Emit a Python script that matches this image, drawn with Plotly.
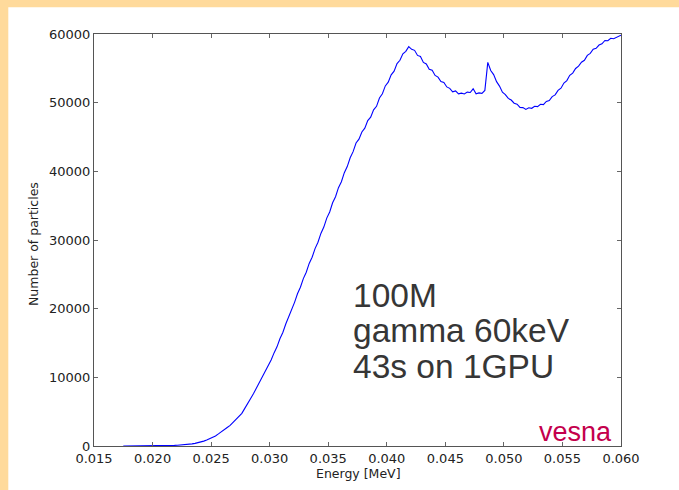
import numpy as np
import plotly.graph_objects as go

# ---- data ----
bin_start = 0.0175   # MeV, left edge of first histogram bin
bin_width = 0.00025  # MeV
counts = [
    0, 0, 0, 0, 5, 5, 10, 10, 15, 20,
    20, 30, 35, 45, 55, 65, 80, 95, 115, 135,
    160, 200, 250, 310, 380, 470, 580, 710, 860, 1050,
    1240, 1470, 1760, 2040, 2360, 2700, 3010, 3430, 3790, 4290,
    4760, 5480, 6120, 6930, 7650, 8460, 9180, 10050, 10760, 11690,
    12520, 13560, 14440, 15620, 16540, 17760, 18730, 19970, 20920, 22180,
    23120, 24380, 25310, 26590, 27480, 28750, 29680, 30960, 31880, 33190,
    34080, 35420, 36300, 37620, 38480, 39810, 40690, 41980, 42870, 44120,
    44690, 45730, 46280, 47390, 47880, 48960, 49470, 50680, 51290, 52440,
    52980, 54060, 54580, 55690, 56170, 57120, 57480, 58150, 57760, 57620,
    56880, 56720, 55860, 55640, 54870, 54710, 53960, 53720, 53080, 52930,
    52290, 52080, 51590, 51720, 51280, 51390, 51260, 51540, 51480, 52020,
    51280, 51420, 51360, 51790, 55870, 54680, 54090, 53060, 52410, 51520,
    51180, 50620, 50380, 49920, 49780, 49310, 49280, 49020, 49260, 49180,
    49480, 49420, 49760, 49720, 50180, 50310, 50890, 51130, 51790, 52110,
    52860, 53220, 53980, 54310, 54980, 55320, 55890, 56170, 56890, 57180,
    57780, 57920, 58390, 58580, 59060, 59020, 59380, 59310, 59540, 59820,
]
x_ticks = [0.015, 0.020, 0.025, 0.030, 0.035, 0.040, 0.045, 0.050, 0.055, 0.060]
x_tick_labels = ["0.015", "0.020", "0.025", "0.030", "0.035", "0.040",
                 "0.045", "0.050", "0.055", "0.060"]
y_ticks = [0, 10000, 20000, 30000, 40000, 50000, 60000]
y_tick_labels = ["0", "10000", "20000", "30000", "40000", "50000", "60000"]
info_lines = ["100M", "gamma 60keV", "43s on 1GPU"]
x_title = "Energy [MeV]"
y_title = "Number of particles"
brand = "vesna"

# ---- geometry ----
W, H = 679, 490
L, R, T, B = 94, 58, 34, 44
PW, PH = W - L - R, H - T - B


def px_x(p):
    return (p - L) / PW


def px_y(p):
    return (H - B - p) / PH


centers = bin_start + bin_width * (np.arange(len(counts)) + 0.5)
xs = np.concatenate([[bin_start], centers, [bin_start + bin_width * len(counts)]])
ys = [0] + list(counts) + [counts[-1]]

fig = go.Figure(go.Scatter(
    x=xs, y=ys, mode="lines",
    line=dict(color="#0000ff", width=1.1),
    hoverinfo="skip", showlegend=False,
))

axis_common = dict(
    ticks="inside", ticklen=4, tickcolor="#666", tickwidth=1,
    showline=True, linecolor="#555", linewidth=1.3, mirror="ticks",
    showgrid=False, zeroline=False,
    tickfont=dict(family="DejaVu Sans", size=13, color="#222"),
)

fig.update_layout(
    width=W, height=H, autosize=False,
    margin=dict(l=L, r=R, t=T, b=B, pad=0),
    paper_bgcolor="white", plot_bgcolor="white",
    xaxis=dict(range=[0.015, 0.060], tickvals=x_ticks, ticktext=x_tick_labels, **axis_common),
    yaxis=dict(range=[0, 60000], tickvals=y_ticks, ticktext=y_tick_labels, **axis_common),
    font=dict(family="DejaVu Sans"),
)

orange = "#ffda9b"
fig.add_shape(type="rect", xref="paper", yref="paper", layer="above",
              x0=px_x(0), x1=px_x(8.3), y0=px_y(H), y1=px_y(0),
              fillcolor=orange, line=dict(width=0))
fig.add_shape(type="rect", xref="paper", yref="paper", layer="above",
              x0=px_x(0), x1=px_x(W), y0=px_y(7.3), y1=px_y(0),
              fillcolor=orange, line=dict(width=0))

fig.add_annotation(text=x_title, xref="paper", yref="paper", x=px_x(358), y=px_y(473),
                   showarrow=False, xanchor="center", yanchor="middle",
                   font=dict(family="DejaVu Sans", size=12.5, color="#222"))
fig.add_annotation(text=y_title, xref="paper", yref="paper", x=px_x(33), y=px_y(244),
                   showarrow=False, xanchor="center", yanchor="middle", textangle=-90,
                   font=dict(family="DejaVu Sans", size=12.5, color="#222"))

for line, yc in zip(info_lines, [295, 330.5, 366]):
    fig.add_annotation(text=line, xref="paper", yref="paper", x=px_x(351), y=px_y(yc),
                       showarrow=False, xanchor="left", yanchor="middle",
                       font=dict(family="Liberation Sans", size=33.5, color="#363636"))

fig.add_annotation(text=brand, xref="paper", yref="paper", x=px_x(614), y=px_y(432),
                   showarrow=False, xanchor="right", yanchor="middle",
                   font=dict(family="Liberation Sans", size=27, color="#c4004c"))

fig.write_html("out.html")
